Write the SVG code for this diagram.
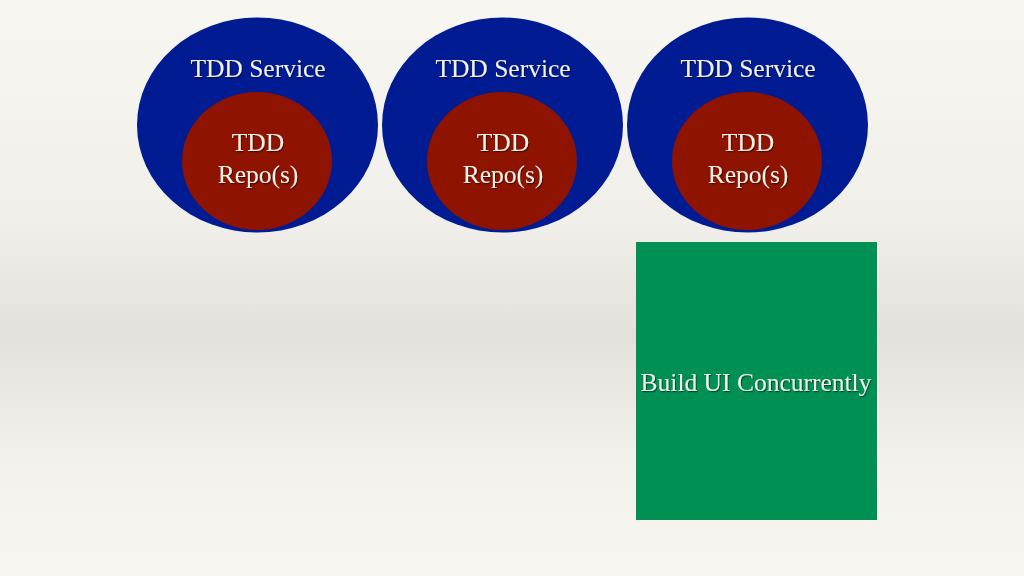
<svg xmlns="http://www.w3.org/2000/svg" width="1024" height="576" viewBox="0 0 1024 576">
<defs>
<linearGradient id="bg" x1="0" y1="0" x2="0" y2="1">
<stop offset="0" stop-color="#f8f6f1"/>
<stop offset="0.38" stop-color="#f1efea"/>
<stop offset="0.58" stop-color="#e4e1dc"/>
<stop offset="0.8" stop-color="#f3f1ec"/>
<stop offset="1" stop-color="#f8f6f1"/>
</linearGradient>
<filter id="sh" x="-10%" y="-20%" width="120%" height="150%">
<feDropShadow dx="1" dy="1.2" stdDeviation="0.6" flood-color="#000" flood-opacity="0.5"/>
</filter>
</defs>
<style>
.outer{fill:#011c93}
.inner{fill:#8e1300}
.box{fill:#009054}
.t{font-family:"Liberation Serif","DejaVu Serif",serif;font-size:25.5px;fill:#f4f1ea;text-anchor:middle;filter:url(#sh)}
</style>
<rect width="1024" height="576" fill="url(#bg)"/>
<g id="service1">
<ellipse class="outer" cx="257.5" cy="125" rx="120.5" ry="107.5"/>
<ellipse class="inner" cx="257" cy="161" rx="75" ry="69"/>
<text class="t" x="258" y="77">TDD Service</text>
<text class="t" x="258" y="151">TDD</text>
<text class="t" x="258" y="183">Repo(s)</text>
</g>
<g id="service2">
<ellipse class="outer" cx="502.5" cy="125" rx="120.5" ry="107.5"/>
<ellipse class="inner" cx="502" cy="161" rx="75" ry="69"/>
<text class="t" x="503" y="77">TDD Service</text>
<text class="t" x="503" y="151">TDD</text>
<text class="t" x="503" y="183">Repo(s)</text>
</g>
<g id="service3">
<ellipse class="outer" cx="747.5" cy="125" rx="120.5" ry="107.5"/>
<ellipse class="inner" cx="747" cy="161" rx="75" ry="69"/>
<text class="t" x="748" y="77">TDD Service</text>
<text class="t" x="748" y="151">TDD</text>
<text class="t" x="748" y="183">Repo(s)</text>
</g>
<g id="ui">
<rect class="box" x="636" y="242" width="241" height="278"/>
<text class="t" x="756" y="391">Build UI Concurrently</text>
</g>
<g id="connectors"/>
</svg>
